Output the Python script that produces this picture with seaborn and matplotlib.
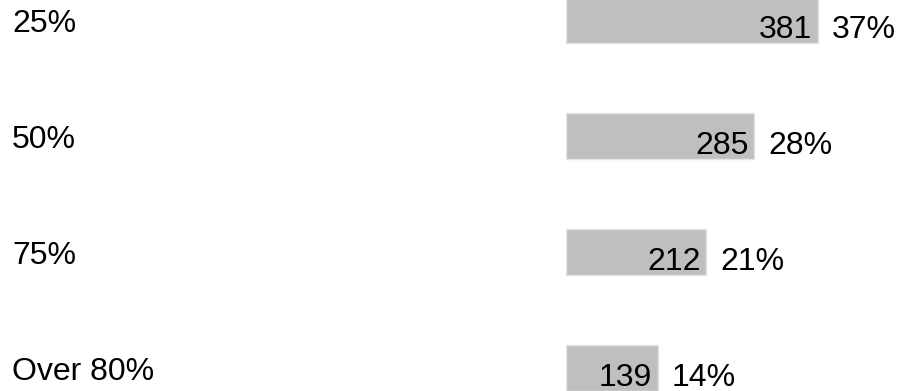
import matplotlib
matplotlib.use("Agg")
import matplotlib.pyplot as plt
import matplotlib.transforms as mtransforms
import seaborn as sns
import pandas as pd

categories = ["25%", "50%", "75%", "Over 80%"]
counts = [381, 285, 212, 139]
shares = ["37%", "28%", "21%", "14%"]

df = pd.DataFrame({"cat": categories, "n": counts})

sns.set_style("white")
plt.rcParams['font.family'] = ['Liberation Sans', 'DejaVu Sans']

fig = plt.figure(figsize=(8.98, 3.91), dpi=100)
ax = fig.add_axes([566 / 898, 0, 1 - 566 / 898, 1])

sns.barplot(data=df, y="cat", x="n", orient="h", color="#bfbfbf",
            width=0.4, saturation=1, edgecolor="#e4e4e4", linewidth=1, ax=ax)

ax.set_xlim(0, 332 / 0.661)
ax.set_ylim(3.198, -0.172)
ax.axis("off")

fs = 23
trans = mtransforms.blended_transform_factory(fig.transFigure, ax.transData)
for i, (c, n, s) in enumerate(zip(categories, counts, shares)):
    ax.annotate(c, (12 / 898, i), xycoords=trans, xytext=(0, -3),
                textcoords="offset points", ha="left", va="center",
                fontsize=fs, color="black")
    ax.annotate(str(n), (n, i), xytext=(-4, -7), textcoords="offset points",
                ha="right", va="center", fontsize=fs, color="black")
    ax.annotate(s, (n, i), xytext=(10, -7), textcoords="offset points",
                ha="left", va="center", fontsize=fs, color="black")

fig.savefig("out.png", dpi=100)
